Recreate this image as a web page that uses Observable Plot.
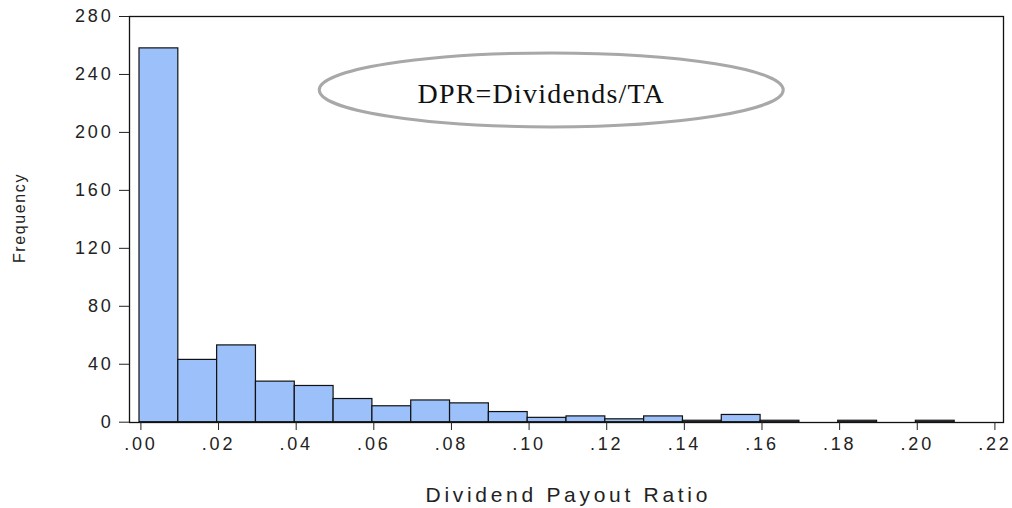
<!DOCTYPE html>
<html>
<head>
<meta charset="utf-8">
<script src="https://cdn.jsdelivr.net/npm/d3@7"></script>
<script src="https://cdn.jsdelivr.net/npm/@observablehq/plot@0.6"></script>
<style>
  html, body { margin: 0; padding: 0; background: #fff; }
  #chart svg { display: block; }
  g[aria-label="y-axis tick label"] text { letter-spacing: 2.8px; font-size: 18px; }
  g[aria-label="x-axis tick label"] text { letter-spacing: 2.8px; font-size: 18px; }
  text[aria-label="x-label"], g[aria-label="x-label"] text { letter-spacing: 3.7px; }
  text[aria-label="y-label"], g[aria-label="y-label"] text { letter-spacing: 1.6px; }
  text[aria-label="note"], g[aria-label="note"] text { letter-spacing: 1.2px; }
</style>
</head>
<body>
<div id="chart"></div>
<script>
// Histogram bins (lower edges) and counts
const binStarts = [0.00, 0.01, 0.02, 0.03, 0.04, 0.05, 0.06, 0.07, 0.08, 0.09, 0.10,
                   0.11, 0.12, 0.13, 0.14, 0.15, 0.16, 0.17, 0.18, 0.19, 0.20];
const counts    = [258, 43, 53, 28, 25, 16, 11, 15, 13, 7, 3,
                   4, 2, 4, 1, 5, 1, 0, 1, 0, 1];
const binWidth = 0.01;
const xTicks = [0, 0.02, 0.04, 0.06, 0.08, 0.10, 0.12, 0.14, 0.16, 0.18, 0.20, 0.22];
const yTicks = [0, 40, 80, 120, 160, 200, 240, 280];
const noteText = "DPR=Dividends/TA";
const ellipseX = 0.1062, ellipseY = 229;
const noteX = 0.1035, noteY = 226.8;

const bars = binStarts.map((s, i) => ({x1: s, x2: s + binWidth, count: counts[i]}))
  .filter(d => d.count > 0);
const fmtX = d => d3.format(".2f")(d).replace(/^0/, "");

const ellipseMark = (index, scales) => {
  const g = document.createElementNS("http://www.w3.org/2000/svg", "g");
  const e = document.createElementNS("http://www.w3.org/2000/svg", "ellipse");
  e.setAttribute("cx", scales.x(ellipseX));
  e.setAttribute("cy", scales.y(ellipseY));
  e.setAttribute("rx", 232);
  e.setAttribute("ry", 37);
  e.setAttribute("fill", "white");
  e.setAttribute("stroke", "#a8a8a8");
  e.setAttribute("stroke-width", 3);
  g.appendChild(e);
  return g;
};

const plot = Plot.plot({
  width: 1012,
  height: 508,
  marginTop: 16,
  marginLeft: 129,
  marginRight: 9,
  marginBottom: 86,
  style: {fontFamily: "Liberation Sans, Arial, sans-serif", fontSize: "17px", color: "#222", background: "white"},
  x: {domain: [0, 0.22], range: [139, 993]},
  y: {domain: [0, 280], range: [421.7, 16]},
  marks: [
    Plot.rect(bars, {x1: "x1", x2: "x2", y1: 0, y2: "count", fill: "#9cc0fa", stroke: "#111", strokeWidth: 1.2}),
    ellipseMark,
    Plot.text([noteText], {x: noteX, y: noteY, text: d => d, ariaLabel: () => "note", fontFamily: "Liberation Serif, Times New Roman, serif", fontSize: 28, fill: "#111"}),
    Plot.frame({stroke: "#111", strokeWidth: 1.3}),
    Plot.axisY({ticks: yTicks, tickSize: 10, tickPadding: 6, label: null, fontSize: 18}),
    Plot.axisX({ticks: xTicks, tickSize: 8, tickPadding: 7, tickFormat: fmtX, label: null, fontSize: 18, dx: 1.4}),
    Plot.text(["Frequency"], {frameAnchor: "left", textAnchor: "middle", lineAnchor: "middle", dx: -109.5, dy: -1.5, rotate: -90, text: d => d, ariaLabel: () => "y-label", fontSize: 16, fill: "#222"}),
    Plot.text(["Dividend Payout Ratio"], {frameAnchor: "bottom", textAnchor: "middle", lineAnchor: "middle", dy: 72.6, dx: 1.8, text: d => d, ariaLabel: () => "x-label", fontSize: 21, fill: "#222"})
  ]
});
document.getElementById("chart").appendChild(plot);
</script>
</body>
</html>
